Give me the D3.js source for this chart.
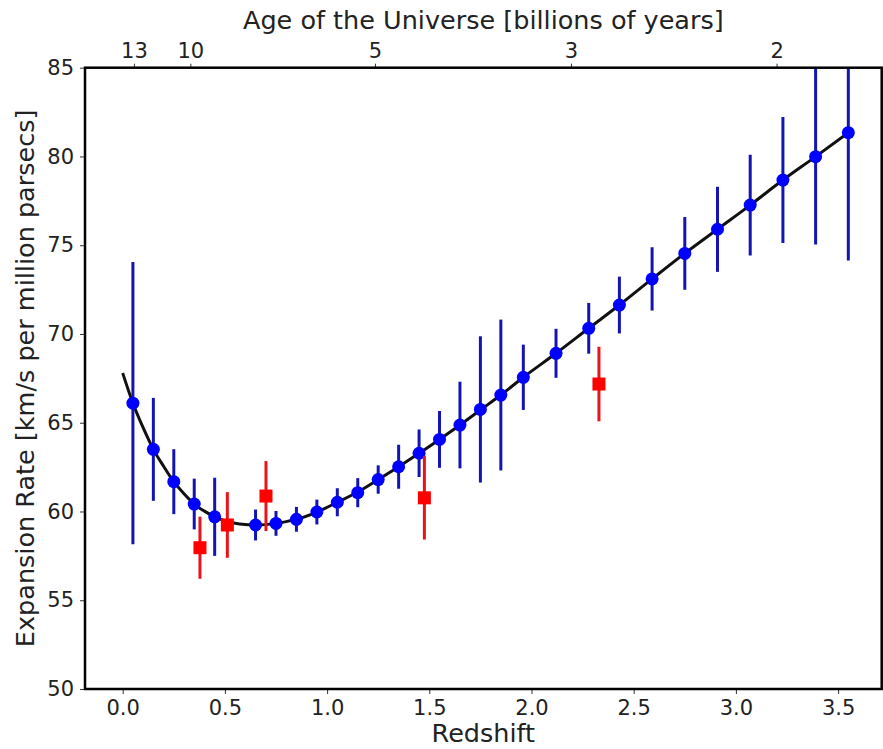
<!DOCTYPE html>
<html>
<head>
<meta charset="utf-8">
<script src="https://cdn.jsdelivr.net/npm/d3@7"></script>
<style>
  html, body { margin: 0; padding: 0; background: #fff; }
  svg { display: block; font-family: "DejaVu Sans", sans-serif; }
</style>
</head>
<body>
<svg id="chart" width="883" height="749"></svg>
<script>
// Expansion-rate measurements H(z)/(1+z) against redshift

// Forecast points (blue): redshift, value, 1-sigma error
const blueZ   = [0.05, 0.15, 0.25, 0.35, 0.45, 0.65, 0.75, 0.85, 0.95, 1.05, 1.15, 1.25, 1.35, 1.45, 1.55, 1.65, 1.75, 1.85, 1.96, 2.12, 2.28, 2.43, 2.59, 2.75, 2.91, 3.07, 3.23, 3.39, 3.55];
const blueH   = [66.1, 63.5, 61.68, 60.42, 59.7, 59.24, 59.33, 59.56, 59.97, 60.52, 61.06, 61.8, 62.52, 63.28, 64.06, 64.87, 65.75, 66.56, 67.56, 68.91, 70.32, 71.63, 73.1, 74.54, 75.9, 77.26, 78.67, 79.99, 81.34];
const blueErr = [7.95, 2.9, 1.83, 1.43, 2.2, 0.87, 0.7, 0.7, 0.7, 0.79, 0.82, 0.8, 1.24, 1.34, 1.6, 2.44, 4.12, 4.25, 1.84, 1.38, 1.43, 1.6, 1.78, 2.05, 2.4, 2.84, 3.55, 4.95, 7.2];

// Existing measurements (red)
const redZ   = [0.378, 0.512, 0.701, 1.476, 2.33];
const redH   = [57.96, 59.24, 60.87, 60.77, 67.18];
const redErr = [1.75, 1.85, 1.97, 2.35, 2.1];

// Model curve samples
const curveZ = [0.0, 0.05, 0.1, 0.15, 0.2, 0.25, 0.3, 0.35, 0.4, 0.45, 0.5, 0.55, 0.6, 0.65, 0.7, 0.75, 0.8, 0.85, 0.95, 1.05, 1.15, 1.25, 1.35, 1.45, 1.55, 1.65, 1.75, 1.85, 1.96, 2.12, 2.28, 2.43, 2.59, 2.75, 2.91, 3.07, 3.23, 3.39, 3.55];
const curveH = [67.8, 66.1, 64.72, 63.5, 62.55, 61.68, 61.0, 60.42, 60.02, 59.7, 59.48, 59.34, 59.27, 59.24, 59.26, 59.33, 59.43, 59.56, 59.97, 60.52, 61.1, 61.8, 62.52, 63.28, 64.06, 64.87, 65.72, 66.56, 67.56, 68.91, 70.32, 71.63, 73.1, 74.54, 75.9, 77.26, 78.67, 79.99, 81.34];

// Axis ticks
const zTicks = [0.0, 0.5, 1.0, 1.5, 2.0, 2.5, 3.0, 3.5];
const hTicks = [50, 55, 60, 65, 70, 75, 80, 85];
const ageLabels = ["13", "10", "5", "3", "2"];
const ageTickZ  = [0.055, 0.331, 1.234, 2.193, 3.199];

const W = 883, H = 749;
const margin = { left: 85, right: 1.3, top: 67.7, bottom: 60 };

const svg = d3.select("#chart");

const x = d3.scaleLinear()
  .domain([-0.1844, 3.7133])
  .range([margin.left, W - margin.right]);
const y = d3.scaleLinear()
  .domain([50, 85])
  .range([H - margin.bottom, margin.top]);

// Clip to the plotting area
svg.append("defs").append("clipPath").attr("id", "plotClip")
  .append("rect")
  .attr("x", margin.left).attr("y", margin.top)
  .attr("width", W - margin.left - margin.right)
  .attr("height", H - margin.top - margin.bottom);

const plot = svg.append("g").attr("clip-path", "url(#plotClip)");

// Model curve
const curvePts = curveZ.map((z, i) => [z, curveH[i]]);
plot.append("path")
  .datum(curvePts)
  .attr("fill", "none")
  .attr("stroke", "#111")
  .attr("stroke-width", 3)
  .attr("d", d3.line().x(d => x(d[0])).y(d => y(d[1])).curve(d3.curveMonotoneX));

// Blue error bars and markers
const blue = blueZ.map((z, i) => ({ z, h: blueH[i], e: blueErr[i] }));
plot.append("g").selectAll("line").data(blue).join("line")
  .attr("x1", d => x(d.z)).attr("x2", d => x(d.z))
  .attr("y1", d => y(d.h - d.e)).attr("y2", d => y(d.h + d.e))
  .attr("stroke", "#1414b4").attr("stroke-width", 3);
plot.append("g").selectAll("circle").data(blue).join("circle")
  .attr("cx", d => x(d.z)).attr("cy", d => y(d.h))
  .attr("r", 6.5).attr("fill", "#0000ff");

// Red error bars and markers
const red = redZ.map((z, i) => ({ z, h: redH[i], e: redErr[i] }));
plot.append("g").selectAll("line").data(red).join("line")
  .attr("x1", d => x(d.z)).attr("x2", d => x(d.z))
  .attr("y1", d => y(d.h - d.e)).attr("y2", d => y(d.h + d.e))
  .attr("stroke", "#e8141a").attr("stroke-width", 3);
const sq = 13;
plot.append("g").selectAll("rect").data(red).join("rect")
  .attr("x", d => x(d.z) - sq / 2).attr("y", d => y(d.h) - sq / 2)
  .attr("width", sq).attr("height", sq)
  .attr("fill", "#ff0000");

// Axes
const tickFont = 21;
function styleAxis(g) {
  g.select(".domain").remove();
  g.selectAll(".tick line").attr("stroke", "#333").attr("stroke-width", 1);
  g.selectAll(".tick text").attr("fill", "#222").attr("font-size", tickFont)
    .attr("font-family", "DejaVu Sans, sans-serif");
}

svg.append("g")
  .attr("transform", `translate(0,${H - margin.bottom})`)
  .call(d3.axisBottom(x).tickValues(zTicks).tickFormat(d3.format(".1f")).tickSize(5).tickPadding(6))
  .call(styleAxis);

svg.append("g")
  .attr("transform", `translate(${margin.left},0)`)
  .call(d3.axisLeft(y).tickValues(hTicks).tickSize(5).tickPadding(6))
  .call(styleAxis);

svg.append("g")
  .attr("transform", `translate(0,${margin.top})`)
  .call(d3.axisTop(x).tickValues(ageTickZ).tickFormat((d, i) => ageLabels[i]).tickSize(4).tickPadding(6))
  .call(styleAxis);

// Frame
svg.append("rect")
  .attr("x", margin.left).attr("y", margin.top)
  .attr("width", W - margin.left - margin.right)
  .attr("height", H - margin.top - margin.bottom)
  .attr("fill", "none").attr("stroke", "#000").attr("stroke-width", 2.5);

// Axis titles
const titleFont = 25.5;
const cx = (margin.left + W - margin.right) / 2;
svg.append("text")
  .attr("x", cx).attr("y", 742)
  .attr("text-anchor", "middle").attr("font-size", titleFont).attr("fill", "#222")
  .text("Redshift");
svg.append("text")
  .attr("x", cx).attr("y", 29)
  .attr("text-anchor", "middle").attr("font-size", titleFont).attr("fill", "#222")
  .text("Age of the Universe [billions of years]");
svg.append("text")
  .attr("transform", `translate(34,${(margin.top + H - margin.bottom) / 2}) rotate(-90)`)
  .attr("text-anchor", "middle").attr("font-size", titleFont).attr("fill", "#222")
  .text("Expansion Rate [km/s per million parsecs]");
</script>
</body>
</html>
